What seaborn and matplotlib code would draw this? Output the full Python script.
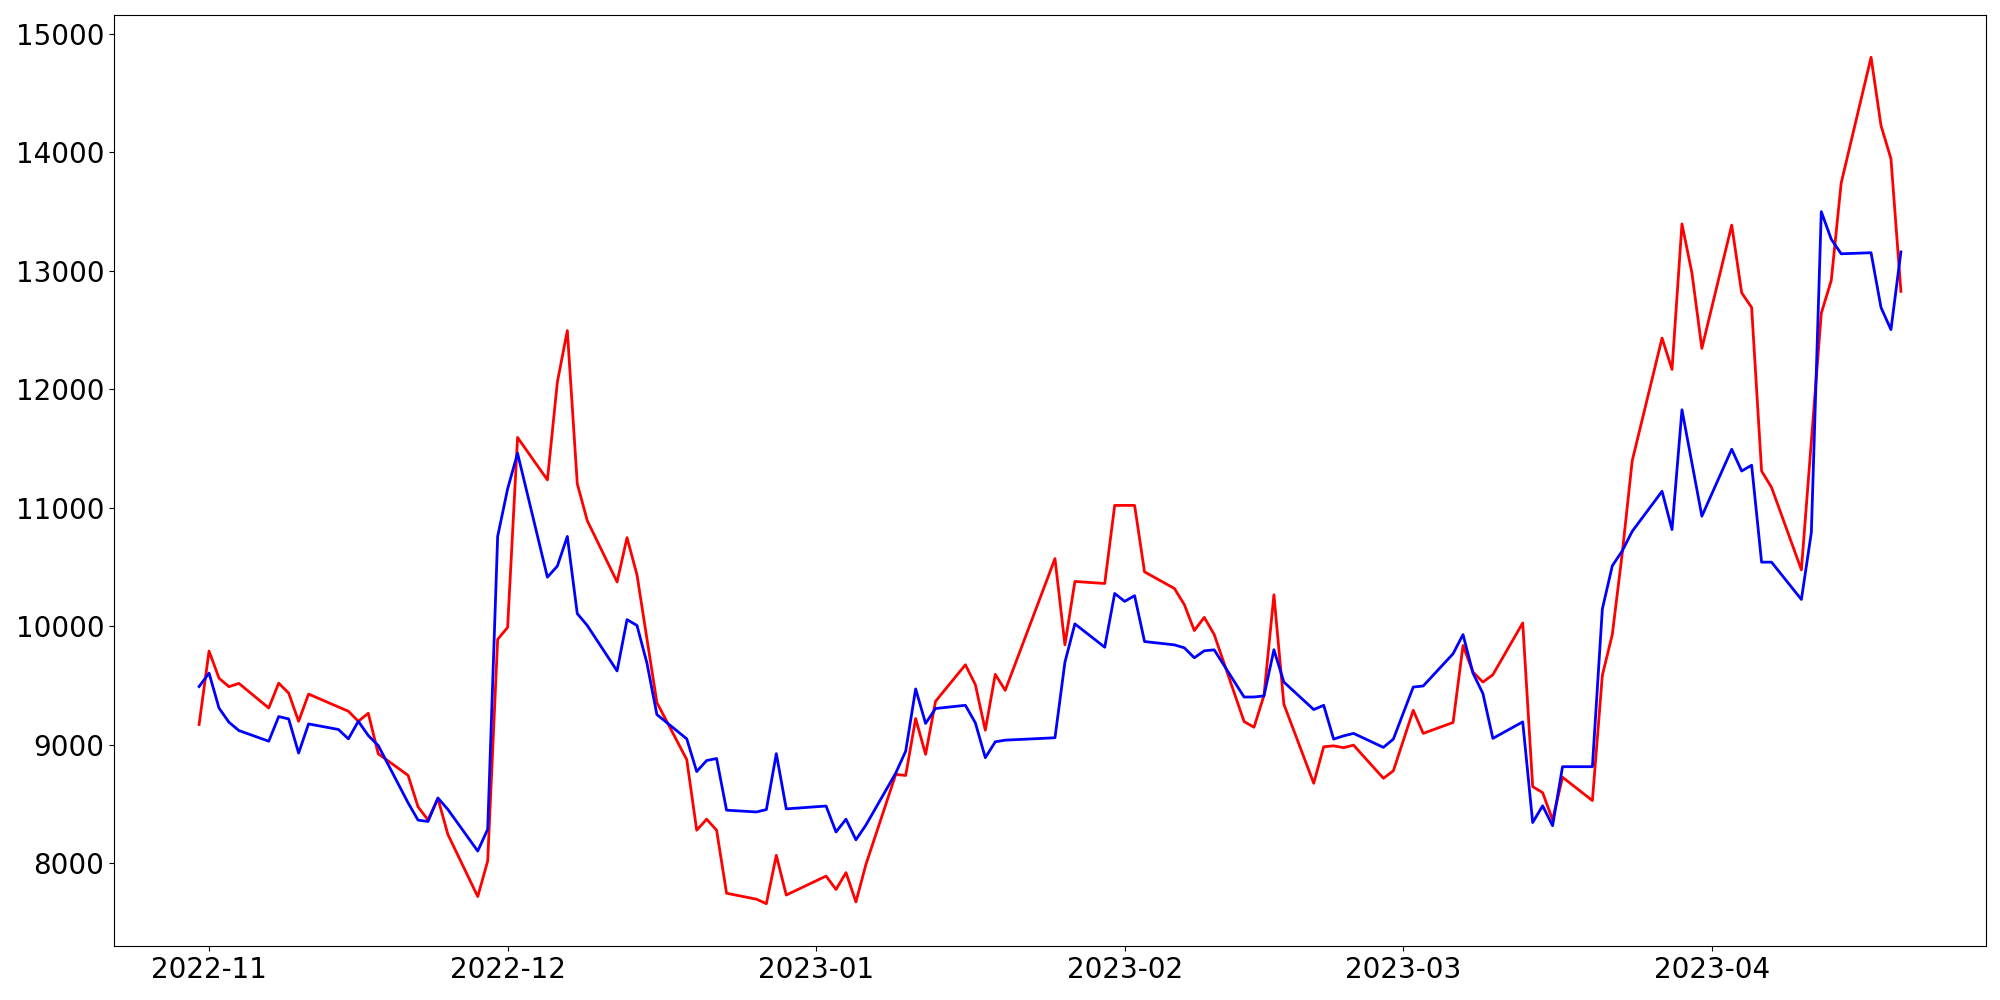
import matplotlib
matplotlib.use("Agg")
import matplotlib.pyplot as plt
import seaborn as sns
import pandas as pd

dates = [
    "2022-10-31", "2022-11-01", "2022-11-02", "2022-11-03", "2022-11-04",
    "2022-11-07", "2022-11-08", "2022-11-09", "2022-11-10", "2022-11-11",
    "2022-11-14", "2022-11-15", "2022-11-16", "2022-11-17", "2022-11-18",
    "2022-11-21", "2022-11-22", "2022-11-23", "2022-11-24", "2022-11-25",
    "2022-11-28", "2022-11-29", "2022-11-30", "2022-12-01", "2022-12-02",
    "2022-12-05", "2022-12-06", "2022-12-07", "2022-12-08", "2022-12-09",
    "2022-12-12", "2022-12-13", "2022-12-14", "2022-12-15", "2022-12-16",
    "2022-12-19", "2022-12-20", "2022-12-21", "2022-12-22", "2022-12-23",
    "2022-12-26", "2022-12-27", "2022-12-28", "2022-12-29",
    "2023-01-02", "2023-01-03", "2023-01-04", "2023-01-05", "2023-01-06",
    "2023-01-09", "2023-01-10", "2023-01-11", "2023-01-12", "2023-01-13",
    "2023-01-16", "2023-01-17", "2023-01-18", "2023-01-19", "2023-01-20",
    "2023-01-25", "2023-01-26", "2023-01-27",
    "2023-01-30", "2023-01-31", "2023-02-01", "2023-02-02", "2023-02-03",
    "2023-02-06", "2023-02-07", "2023-02-08", "2023-02-09", "2023-02-10",
    "2023-02-13", "2023-02-14", "2023-02-15", "2023-02-16", "2023-02-17",
    "2023-02-20", "2023-02-21", "2023-02-22", "2023-02-23", "2023-02-24",
    "2023-02-27", "2023-02-28", "2023-03-02", "2023-03-03",
    "2023-03-06", "2023-03-07", "2023-03-08", "2023-03-09", "2023-03-10",
    "2023-03-13", "2023-03-14", "2023-03-15", "2023-03-16", "2023-03-17",
    "2023-03-20", "2023-03-21", "2023-03-22", "2023-03-23", "2023-03-24",
    "2023-03-27", "2023-03-28", "2023-03-29", "2023-03-30", "2023-03-31",
    "2023-04-03", "2023-04-04", "2023-04-05", "2023-04-06", "2023-04-07",
    "2023-04-10", "2023-04-11", "2023-04-12", "2023-04-13", "2023-04-14",
    "2023-04-17", "2023-04-18", "2023-04-19", "2023-04-20",
]

red_values = [
    9170, 9790, 9561, 9489, 9517,
    9309, 9519, 9435, 9197, 9427,
    9318, 9282, 9197, 9265, 8923,
    8741, 8475, 8365, 8545, 8242,
    7718, 8019, 9889, 9989, 11592,
    11234, 12060, 12494, 11202, 10891,
    10373, 10747, 10433, 9893, 9355,
    8874, 8278, 8371, 8278, 7746,
    7696, 7658, 8066, 7731,
    7891, 7778, 7920, 7673, 7988,
    8749, 8740, 9220, 8918, 9366,
    9674, 9506, 9122, 9593, 9458,
    10570, 9842, 10377,
    10360, 11019, 11019, 11019, 10458,
    10318, 10181, 9963, 10074, 9929,
    9195, 9147, 9415, 10265, 9341,
    8674, 8982, 8990, 8974, 8996,
    8716, 8779, 9290, 9095,
    9187, 9837, 9612, 9528, 9590,
    10027, 8646, 8595, 8366, 8725,
    8528, 9585, 9929, 10615, 11395,
    12431, 12166, 13394, 12981, 12344,
    13384, 12813, 12689, 11309, 11171,
    10475, 11560, 12641, 12916, 13740,
    14800, 14224, 13944, 12825,
]

blue_values = [
    9490, 9604, 9309, 9189, 9119,
    9029, 9237, 9217, 8929, 9175,
    9128, 9049, 9197, 9077, 8993,
    8509, 8363, 8352, 8550, 8453,
    8102, 8286, 10757, 11158, 11459,
    10413, 10507, 10757, 10106, 10006,
    9622, 10055, 10006, 9688, 9254,
    9049, 8773, 8866, 8883, 8447,
    8432, 8452, 8924, 8458,
    8482, 8263, 8371, 8197, 8321,
    8760, 8945, 9470, 9179, 9305,
    9332, 9184, 8890, 9024, 9038,
    9058, 9696, 10019,
    9822, 10276, 10209, 10257, 9870,
    9842, 9817, 9733, 9792, 9800,
    9402, 9402, 9411, 9801, 9528,
    9296, 9332, 9047, 9074, 9095,
    8977, 9047, 9486, 9495,
    9767, 9929, 9604, 9431, 9053,
    9192, 8343, 8484, 8316, 8814,
    8814, 10145, 10509, 10635, 10800,
    11138, 10815, 11826, 11377, 10928,
    11493, 11309, 11358, 10540, 10540,
    10225, 10790, 13498, 13265, 13142,
    13151, 12689, 12502, 13158,
]

df = pd.DataFrame({
    "date": pd.to_datetime(dates),
    "red": red_values,
    "blue": blue_values,
})

fig, ax = plt.subplots(figsize=(20, 10), dpi=100)
sns.lineplot(data=df, x="date", y="red", color="red", linewidth=2, ax=ax)
sns.lineplot(data=df, x="date", y="blue", color="blue", linewidth=2, ax=ax)

ax.set_xlabel("")
ax.set_ylabel("")
ax.tick_params(axis="both", labelsize=20)
fig.subplots_adjust(left=0.057, right=0.993, top=0.985, bottom=0.054)
fig.savefig("out.png", dpi=100)
